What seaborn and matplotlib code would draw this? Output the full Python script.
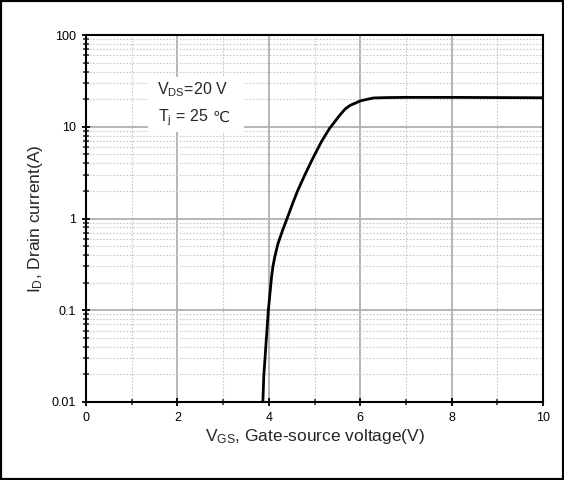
import numpy as np
import pandas as pd
import matplotlib
matplotlib.use("Agg")
import matplotlib.pyplot as plt
import matplotlib.ticker as mticker
from matplotlib.patches import Rectangle
import seaborn as sns

# Data
vgs = [3.87, 3.89, 3.94, 3.99, 4.06, 4.09, 4.13, 4.20, 4.30, 4.40, 4.52, 4.63, 4.79,
       4.97, 5.16, 5.33, 5.56, 5.67, 5.78, 6.01, 6.29, 6.6, 7.0, 8.0, 9.0, 10.0]
i_d = [0.01, 0.019, 0.044, 0.10, 0.23, 0.30, 0.38, 0.53, 0.74, 1.0, 1.45, 2.0, 3.0,
       4.6, 7.0, 9.6, 13.5, 15.6, 17.1, 19.2, 20.6, 20.8, 20.9, 20.9, 20.8, 20.7]
x_ticks = [0, 2, 4, 6, 8, 10]
y_ticks = [0.01, 0.1, 1, 10, 100]
y_tick_labels = ["0.01", "0.1", "1", "10", "100"]

sns.set_style("ticks")
plt.rcParams['font.family'] = ['Liberation Sans', 'DejaVu Sans']
plt.rcParams['mathtext.fontset'] = 'custom'
plt.rcParams['mathtext.rm'] = 'Liberation Sans'
plt.rcParams['mathtext.it'] = 'Liberation Sans:italic'

df = pd.DataFrame({"VGS": vgs, "ID": i_d})

fig = plt.figure(figsize=(5.64, 4.8), dpi=100)
ax = fig.add_axes([86/564, 1-402/480, (543-86)/564, (402-35)/480])

sns.lineplot(data=df, x="VGS", y="ID", ax=ax, color="black", linewidth=2,
             sort=False, estimator=None, zorder=5)

ax.set_yscale("log")
ax.set_xlim(0, 10)
ax.set_ylim(0.01, 100)
ax.set_xticks(x_ticks)
ax.set_xticklabels([str(v) for v in x_ticks])
ax.xaxis.set_minor_locator(mticker.MultipleLocator(1))
ax.set_yticks(y_ticks)
ax.set_yticklabels(y_tick_labels)
ax.yaxis.set_minor_locator(mticker.LogLocator(base=10, subs=np.arange(2, 10), numticks=20))
ax.yaxis.set_minor_formatter(mticker.NullFormatter())

ax.grid(True, which="major", color="#b0b0b0", linewidth=1.3, linestyle="-", zorder=0)
ax.grid(True, which="minor", color="#c8c8c8", linewidth=0.8, linestyle=(0, (1.5, 1.5)), zorder=0)
ax.set_axisbelow(True)

for s in ax.spines.values():
    s.set_linewidth(1.5)
    s.set_color("black")
ax.tick_params(which="major", direction="inout", length=6, width=1.3,
               labelsize=9, colors="black", pad=4)
ax.tick_params(which="minor", direction="inout", length=4, width=1.1)

ax.set_xlabel(r"V$_\mathregular{GS}$, Gate-source voltage(V)", fontsize=12.5, labelpad=2)
ax.set_ylabel(r"I$_\mathregular{D}$, Drain current(A)", fontsize=12.5, labelpad=5)

# white annotation box
ax.add_patch(Rectangle((0.1357, 0.7357), 0.21, 0.15, transform=ax.transAxes,
                       facecolor="white", edgecolor="none", zorder=3))
ax.text(0.155, 0.850, "V$_\\mathregular{DS}$=20 V", transform=ax.transAxes,
        ha="left", va="center", fontsize=11.5, zorder=4)
t2 = ax.text(0.157, 0.774, "T$_\\mathregular{j}$ = 25", transform=ax.transAxes,
             ha="left", va="center", fontsize=11.5, zorder=4)
ax.annotate("\u2103", xy=(1, 0.5), xycoords=t2, xytext=(3.5, 0.5),
            textcoords="offset points", ha="left", va="center",
            fontsize=11, family="DejaVu Sans", zorder=4)

fig.patches.append(Rectangle((0, 0), 1, 1, transform=fig.transFigure,
                             fill=False, edgecolor="black", linewidth=3))

fig.savefig("out.png", dpi=100)
